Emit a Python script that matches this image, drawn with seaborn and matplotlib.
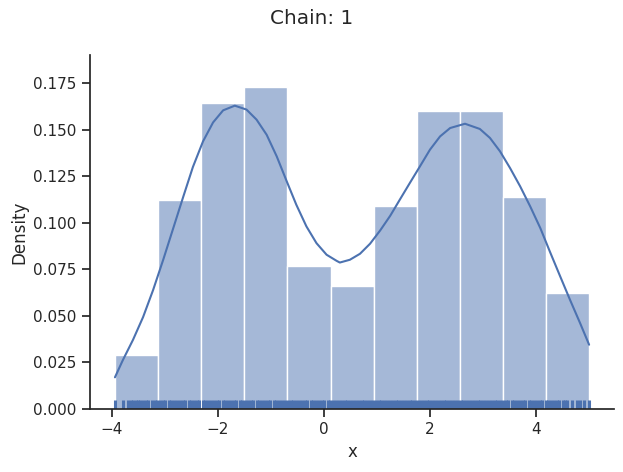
import numpy as np
import matplotlib
matplotlib.use("Agg")
import matplotlib.pyplot as plt
import seaborn as sns

sns.set_theme(style="ticks")

# histogram (bin edges and density heights)
bin_edges = [-3.94, -3.13, -2.31, -1.50, -0.69, 0.13, 0.94, 1.75, 2.56, 3.37, 4.19, 5.00]
bin_density = [0.029, 0.112, 0.164, 0.173, 0.077, 0.066, 0.109, 0.160, 0.160, 0.114, 0.062]

# kde curve points
kde_x = [-3.94, -3.79, -3.60, -3.41, -3.22, -3.03, -2.84, -2.65, -2.47, -2.28,
         -2.09, -1.90, -1.68, -1.46, -1.27, -1.08, -0.89, -0.70, -0.52, -0.33,
         -0.14, 0.05, 0.24, 0.30, 0.49, 0.68, 0.87, 1.06, 1.25, 1.43,
         1.62, 1.81, 2.00, 2.19, 2.38, 2.66, 2.94, 3.13, 3.32, 3.51,
         3.70, 3.89, 4.08, 4.26, 4.45, 4.64, 4.83, 5.00]
kde_y = [0.0170, 0.0263, 0.0371, 0.0493, 0.0639, 0.0801, 0.0971, 0.1141, 0.1299, 0.1436,
         0.1538, 0.1603, 0.1628, 0.1607, 0.1553, 0.1472, 0.1356, 0.1221, 0.1096, 0.0980,
         0.0890, 0.0828, 0.0795, 0.0786, 0.0801, 0.0833, 0.0887, 0.0958, 0.1037, 0.1123,
         0.1213, 0.1302, 0.1392, 0.1463, 0.1508, 0.1531, 0.1503, 0.1455, 0.1383, 0.1293,
         0.1195, 0.1087, 0.0971, 0.0845, 0.0715, 0.0586, 0.0461, 0.0345]

# rug ticks (samples)
rug_x = [-3.94, -3.79, -3.70, -3.64, -3.60, -3.55, -3.50, -3.46, -3.41, -3.36, -3.31, -3.25, -3.19,
         -3.14, -3.10, -3.03, -2.99, -2.93, -2.88, -2.82, -2.77, -2.71, -2.66, -2.61, -2.55, -2.50,
         -2.45, -2.39, -2.35, -2.28, -2.24, -2.18, -2.13, -2.07, -2.02, -1.97, -1.91, -1.86, -1.81,
         -1.75, -1.70, -1.65, -1.59, -1.54, -1.49, -1.43, -1.38, -1.33, -1.27, -1.22, -1.17, -1.11,
         -1.06, -1.01, -0.95, -0.90, -0.85, -0.79, -0.74, -0.68, -0.63, -0.58, -0.52, -0.47, -0.42,
         -0.36, -0.31, -0.25, -0.20, -0.15, -0.09, -0.04, 0.01, 0.07, 0.12, 0.17, 0.23, 0.28, 0.34,
         0.39, 0.44, 0.50, 0.55, 0.60, 0.66, 0.71, 0.76, 0.82, 0.87, 0.92, 0.98, 1.03, 1.08, 1.14,
         1.19, 1.24, 1.30, 1.35, 1.40, 1.46, 1.51, 1.56, 1.62, 1.67, 1.72, 1.78, 1.83, 1.88, 1.94,
         1.99, 2.04, 2.10, 2.15, 2.20, 2.26, 2.31, 2.36, 2.42, 2.47, 2.52, 2.58, 2.63, 2.68, 2.74,
         2.79, 2.84, 2.90, 2.95, 3.00, 3.06, 3.11, 3.16, 3.22, 3.27, 3.32, 3.38, 3.43, 3.48, 3.54,
         3.59, 3.64, 3.70, 3.75, 3.80, 3.86, 3.91, 3.96, 4.02, 4.07, 4.12, 4.18, 4.23, 4.28, 4.34,
         4.39, 4.44, 4.50, 4.54, 4.59, 4.67, 4.77, 4.83, 4.91, 4.99]

bin_centers = [(a + b) / 2 for a, b in zip(bin_edges[:-1], bin_edges[1:])]
blue = sns.color_palette()[0]

fig, ax = plt.subplots(figsize=(6.23, 4.72), dpi=100)
sns.histplot(x=bin_centers, weights=bin_density, bins=bin_edges, stat="count",
             color=blue, alpha=0.5, edgecolor="white", ax=ax)
sns.lineplot(x=kde_x, y=kde_y, color=blue, lw=1.5, ax=ax)
sns.rugplot(x=rug_x, color=blue, height=0.025, linewidth=2.2, ax=ax)

ax.set_xlim(-4.41, 5.47)
ax.set_ylim(0, 0.19)
ax.set_xlabel("x")
ax.set_ylabel("Density")
sns.despine(ax=ax)
fig.suptitle("Chain: 1")
fig.subplots_adjust(left=0.1445, right=0.9856, bottom=0.1335, top=0.8835)
fig.savefig("out.png", dpi=100)
